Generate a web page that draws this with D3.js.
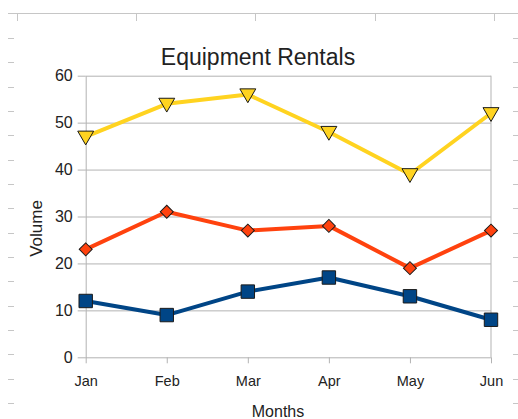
<!DOCTYPE html>
<html lang="en">
<head>
  <meta charset="UTF-8">
  <title>Equipment Rentals</title>
  <script src="https://d3js.org/d3.v7.min.js"></script>
  <style>
    * { margin: 0; padding: 0; box-sizing: border-box; }
    body { background: #fff; font-family: "Liberation Sans", Arial, sans-serif; }
    svg text { fill: #222; }
  </style>
</head>
<body>
  <div id="chart"></div>
  <script>
    // data
    const months = ["Jan", "Feb", "Mar", "Apr", "May", "Jun"];
    const yellowSeries = [47, 54, 56, 48, 39, 52];
    const redSeries = [23, 31, 27, 28, 19, 27];
    const blueSeries = [12, 9, 14, 17, 13, 8];
    const yTicks = [0, 10, 20, 30, 40, 50, 60];

    const series = [
      {values: blueSeries, color: "#004586", shape: d3.symbolSquare, size: 180, rot: 0},
      {values: redSeries, color: "#ff420e", shape: d3.symbolSquare, size: 84, rot: 45},
      {values: yellowSeries, color: "#ffd320", shape: d3.symbolTriangle, size: 110, rot: 180}
    ];

    const W = 518, H = 419;
    const plot = {left: 85.7, right: 491, top: 75.7, bottom: 357.3};

    const svg = d3.select("#chart").append("svg")
      .attr("width", W).attr("height", H);

    // spreadsheet frame marks around the chart
    const frame = svg.append("g").attr("stroke", "#c6c6c6").attr("stroke-width", 1);
    frame.append("line").attr("x1", 8).attr("x2", W).attr("y1", 13.5).attr("y2", 13.5);
    [17, 136, 255, 375, 494].forEach(x => {
      frame.append("line").attr("x1", x + 0.5).attr("x2", x + 0.5).attr("y1", 13).attr("y2", 21);
    });
    d3.range(16).forEach(i => {
      const y = Math.round(38 + i * 24.33) + 0.5;
      frame.append("line").attr("x1", 8).attr("x2", 14).attr("y1", y).attr("y2", y);
      frame.append("line").attr("x1", 513).attr("x2", W).attr("y1", y).attr("y2", y);
    });

    const x = d3.scalePoint().domain(months).range([plot.left, plot.right]);
    const y = d3.scaleLinear().domain([0, 60]).range([plot.bottom, plot.top]);

    // horizontal grid
    svg.append("g")
      .attr("transform", `translate(${plot.left},0)`)
      .call(d3.axisLeft(y).tickValues(yTicks).tickSize(-(plot.right - plot.left)).tickFormat(""))
      .call(g => g.select(".domain").remove())
      .selectAll("line").attr("stroke", "#b3b3b3");

    // right border
    svg.append("line")
      .attr("x1", plot.right).attr("x2", plot.right)
      .attr("y1", plot.top).attr("y2", plot.bottom)
      .attr("stroke", "#b3b3b3");

    // y axis
    svg.append("g")
      .attr("transform", `translate(${plot.left},0)`)
      .call(d3.axisLeft(y).tickValues(yTicks).tickSize(8).tickPadding(5).tickSizeOuter(0))
      .call(g => g.selectAll("path, line").attr("stroke", "#b3b3b3"))
      .selectAll("text").style("font-size", "16px").style("font-family", "Liberation Sans, Arial, sans-serif");

    // x axis
    svg.append("g")
      .attr("transform", `translate(0,${plot.bottom})`)
      .call(d3.axisBottom(x).tickSize(6).tickPadding(12).tickSizeOuter(0))
      .call(g => g.select(".domain").remove())
      .call(g => g.selectAll("line").attr("stroke", "#b3b3b3"))
      .selectAll("text").style("font-size", "14.5px").style("font-family", "Liberation Sans, Arial, sans-serif");

    const line = d3.line().x((d, i) => x(months[i])).y(d => y(d));

    series.forEach(s => {
      svg.append("path")
        .datum(s.values)
        .attr("fill", "none")
        .attr("stroke", s.color)
        .attr("stroke-width", 4)
        .attr("stroke-linejoin", "round")
        .attr("d", line);

      svg.selectAll(null)
        .data(s.values)
        .enter()
        .append("path")
        .attr("d", d3.symbol().type(s.shape).size(s.size))
        .attr("transform", (d, i) => `translate(${x(months[i])},${y(d) + (s.rot === 180 ? -1 : 0)}) rotate(${s.rot})`)
        .attr("fill", s.color)
        .attr("stroke", "#1a1a1a")
        .attr("stroke-width", 1);
    });

    // title and axis titles
    svg.append("text")
      .attr("x", 258).attr("y", 65)
      .attr("text-anchor", "middle")
      .style("font-size", "23px")
      .text("Equipment Rentals");

    svg.append("text")
      .attr("x", 278).attr("y", 417)
      .attr("text-anchor", "middle")
      .style("font-size", "16px")
      .text("Months");

    svg.append("text")
      .attr("transform", "translate(42,228.5) rotate(-90)")
      .attr("text-anchor", "middle")
      .style("font-size", "17px")
      .text("Volume");
  </script>
</body>
</html>
